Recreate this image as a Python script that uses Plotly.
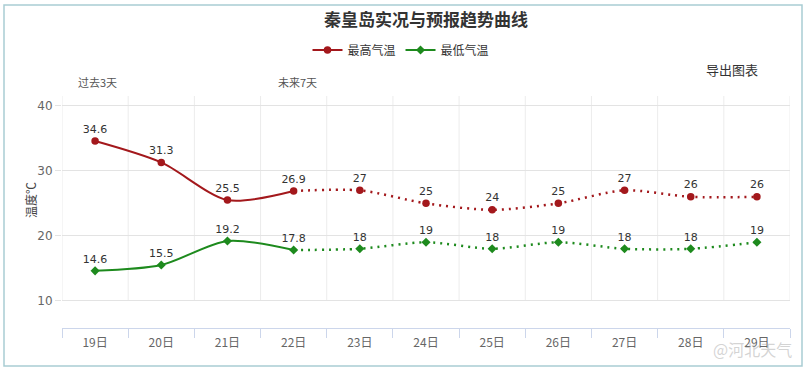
import plotly.graph_objects as go

days = ["19日", "20日", "21日", "22日", "23日", "24日", "25日", "26日", "27日", "28日", "29日"]
high = [34.6, 31.3, 25.5, 26.9, 27, 25, 24, 25, 27, 26, 26]
low = [14.6, 15.5, 19.2, 17.8, 18, 19, 18, 19, 18, 18, 19]
n_obs = 4  # 19-22 observed (solid), rest forecast (dotted)
yticks = [10, 20, 30, 40]

RED = "#a3181c"
GREEN = "#1d8a1d"
FONT = "Noto Sans CJK SC"

W, H = 806, 370
L, R, T, B = 62, 16, 96, 42
pw, ph = W - L - R, H - T - B


def px_x(x):
    return (x - L) / pw


def px_y(y):
    return (H - B - y) / ph


def fmt(v):
    return f"{v:g}"


fig = go.Figure()

series = [("最高气温", high, RED, "circle", 7.5), ("最低气温", low, GREEN, "diamond", 7)]
for name, vals, col, sym, ms in series:
    # observed (solid)
    fig.add_trace(go.Scatter(
        x=days[:n_obs], y=vals[:n_obs], name=name, mode="lines+markers+text",
        line=dict(color=col, width=2, shape="spline", smoothing=0.8),
        marker=dict(color=col, size=ms, symbol=sym, opacity=1, line=dict(width=0)),
        text=[fmt(v) for v in vals[:n_obs]], textposition="top center",
        textfont=dict(size=11, color="#333", family="DejaVu Sans"),
        legendgroup=name, showlegend=True, cliponaxis=False,
    ))
    # forecast (dotted)
    fig.add_trace(go.Scatter(
        x=days[n_obs - 1:], y=vals[n_obs - 1:], name=name, mode="lines+markers+text",
        line=dict(color=col, width=2.5, dash="2px,5px", shape="spline", smoothing=0.8),
        marker=dict(color=col, size=[0] + [ms] * (len(vals) - n_obs), symbol=sym,
                    opacity=1, line=dict(width=0)),
        text=[""] + [fmt(v) for v in vals[n_obs:]], textposition="top center",
        textfont=dict(size=11, color="#333", family="DejaVu Sans"),
        legendgroup=name, showlegend=False, cliponaxis=False,
    ))

shapes = []
# vertical grid lines at category boundaries
for i in range(len(days) + 1):
    shapes.append(dict(type="line", xref="x", yref="y", x0=i - 0.5, x1=i - 0.5,
                       y0=yticks[0], y1=41.54, line=dict(color="#ececec", width=1), layer="below"))
# outer border
shapes.append(dict(type="rect", xref="paper", yref="paper",
                   x0=px_x(4), x1=px_x(802), y0=px_y(366), y1=px_y(5),
                   line=dict(color="#a9cdd3", width=1.5)))

annotations = [
    dict(text="导出图表", x=px_x(732), y=px_y(69), xref="paper", yref="paper",
         showarrow=False, font=dict(size=13, color="#333", family=FONT)),
    dict(text="过去3天", x=px_x(97), y=px_y(82), xref="paper", yref="paper",
         showarrow=False, font=dict(size=11, color="#555", family=FONT)),
    dict(text="未来7天", x=px_x(297), y=px_y(82), xref="paper", yref="paper",
         showarrow=False, font=dict(size=11, color="#555", family=FONT)),
    dict(text="温度℃", x=px_x(30), y=px_y(200), xref="paper", yref="paper",
         showarrow=False, textangle=-90, font=dict(size=12, color="#444", family=FONT)),
    dict(text="@河北天气", x=px_x(752), y=px_y(349), xref="paper", yref="paper",
         showarrow=False, font=dict(size=16, color="rgba(170,170,170,0.5)", family=FONT)),
]
for a in annotations:
    a["xanchor"] = "center"
    a["yanchor"] = "middle"

fig.update_layout(
    width=W, height=H,
    margin=dict(l=L, r=R, t=T, b=B, pad=0),
    paper_bgcolor="white", plot_bgcolor="white",
    title=dict(text="<b>秦皇岛实况与预报趋势曲线</b>", x=0.5, xref="paper", xanchor="center",
               y=1 - 20 / H, yanchor="middle", font=dict(size=17, color="#333", family=FONT)),
    legend=dict(orientation="h", x=px_x(401), y=px_y(50), xanchor="center", yanchor="middle",
                xref="paper", yref="paper", font=dict(size=12, color="#333", family=FONT),
                itemwidth=30, bgcolor="rgba(0,0,0,0)"),
    xaxis=dict(type="category", categoryorder="array", categoryarray=days,
               range=[-0.5, len(days) - 0.5], showgrid=False, tickson="boundaries",
               ticks="outside", ticklen=9, tickcolor="#ccd6eb", showline=True,
               linecolor="#ccd6eb", linewidth=1, ticklabelstandoff=4,
               tickfont=dict(size=12, color="#666", family=FONT), fixedrange=True),
    yaxis=dict(range=[5.79, 41.54], tickvals=yticks, showgrid=True, gridcolor="#e3e3e3",
               zeroline=False, showline=False, ticks="outside", ticklen=6, tickcolor="#e3e3e3",
               tickfont=dict(size=12, color="#666", family="DejaVu Sans"), fixedrange=True),
    shapes=shapes,
    annotations=annotations,
)

fig.write_html("out.html", config={"displayModeBar": False},
               post_script="document.body.style.margin='0';")
